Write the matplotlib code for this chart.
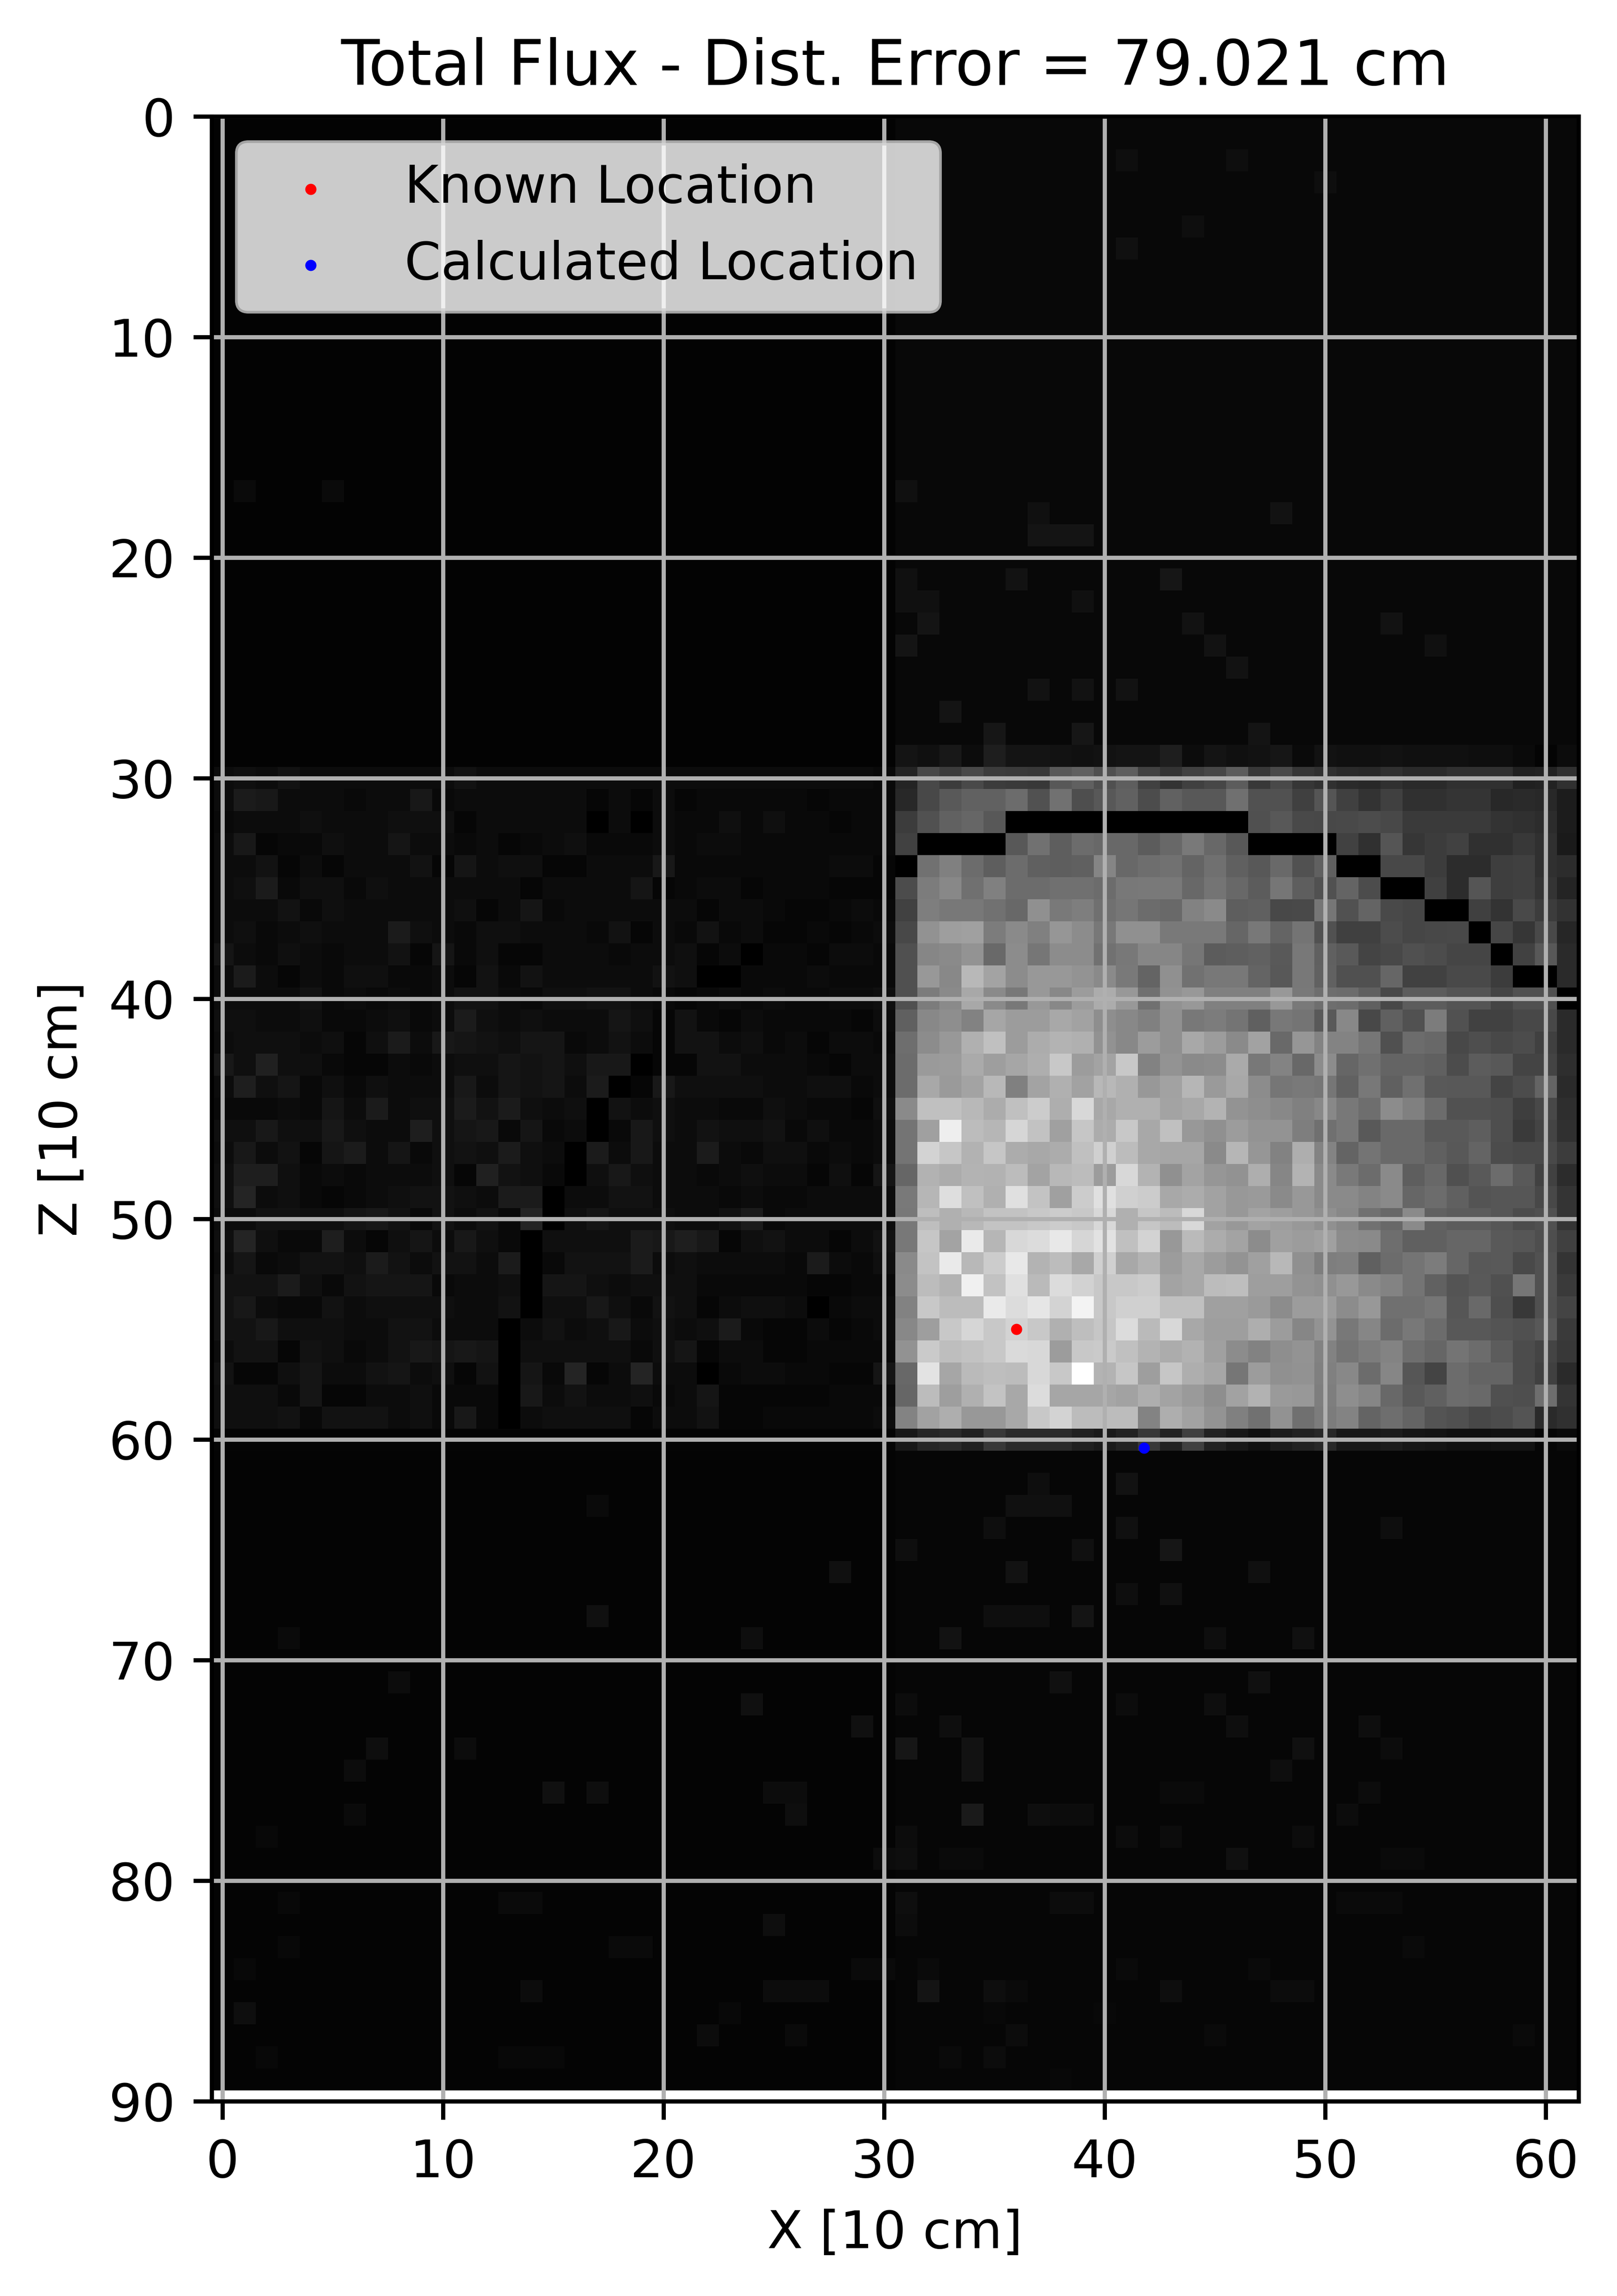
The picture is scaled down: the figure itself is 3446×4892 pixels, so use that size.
import numpy as np
import matplotlib
matplotlib.use("Agg")
import matplotlib.pyplot as plt

# grey levels (0-255)
# rows 30-59, columns 0-30 : one hex digit per cell, level = digit * 3 + 3, 0 stays black
left_rows = [
    "3435333333" "3533333333" "3333333333" "2",
    "3873332337" "2333333131" "3122222122" "2",
    "2333433344" "4133333030" "3224242212" "2",
    "3712243363" "3231234222" "3233222222" "2",
    "3351313335" "1634411333" "7222222233" "1",
    "3482442433" "3333133336" "1233122211" "1",
    "3335243333" "3413623333" "3313321123" "2",
    "3423433384" "3244333251" "3252311212" "3",
    "6324323351" "6241133323" "3413022133" "2",
    "3831324422" "3152533333" "5400222322" "2",
    "3333523232" "3553244553" "2123232233" "4",
    "4433422342" "3843433364" "1521322221" "3",
    "3444341483" "7654662353" "1553423133" "2",
    "74a4421132" "3446564770" "1155333213" "3",
    "3946242433" "3736563801" "7444433442" "3",
    "2223263834" "4858434053" "4332243221" "4",
    "4474474339" "4672623027" "4354452422" "3",
    "3735168362" "4548430837" "3383244232" "3",
    "4994232333" "41a5420474" "3323433141" "6",
    "4b34212345" "5438803355" "3332322333" "3",
    "3355446752" "5352b04644" "4335823333" "3",
    "4b42293146" "3742044448" "7971453313" "5",
    "3623554853" "5538025558" "3433332832" "4",
    "5558425666" "2334066434" "4422222112" "2",
    "5732253444" "4335044742" "5413443023" "3",
    "5574443355" "3330353473" "4348211312" "3",
    "3551542357" "6760444442" "4613311222" "2",
    "5114633563" "415062b13b" "3302332211" "6",
    "4442611334" "2220735334" "2361111122" "2",
    "4445255534" "2720344441" "3351122222" "3",
]

# rows 29-60, columns 31-61
row_29 = [0x14, 0x10, 0x18, 0x0c, 0x1e, 0x14, 0x14, 0x12, 0x10, 0x12, 0x14, 0x14, 0x1e, 0x0c, 0x14, 0x10,
          0x12, 0x16, 0x0a, 0x12, 0x10, 0x10, 0x12, 0x10, 0x10, 0x10, 0x0e, 0x0e, 0x0a, 0x04, 0x0c]
bright_rows = [
    [0x25, 0x48, 0x3c, 0x4a, 0x3c, 0x3a, 0x38, 0x58, 0x60, 0x50, 0x5e, 0x42, 0x33, 0x40, 0x47, 0x5c, 0x38, 0x4a, 0x36, 0x30, 0x2a, 0x28, 0x30, 0x2a, 0x2a, 0x30, 0x30, 0x30, 0x20, 0x22, 0x30],
    [0x28, 0x48, 0x5a, 0x62, 0x62, 0x6c, 0x52, 0x72, 0x4e, 0x58, 0x62, 0x4c, 0x62, 0x58, 0x58, 0x70, 0x52, 0x52, 0x40, 0x55, 0x40, 0x33, 0x40, 0x30, 0x30, 0x35, 0x35, 0x28, 0x2a, 0x28, 0x1c],
    [0x3c, 0x52, 0x62, 0x66, 0x58, 0, 0, 0, 0, 0, 0, 0, 0, 0, 0, 0, 0x50, 0x58, 0x4a, 0x48, 0x4a, 0x4c, 0x48, 0x3a, 0x3a, 0x3a, 0x3a, 0x33, 0x30, 0x2c, 0x1c],
    [0x42, 0, 0, 0, 0, 0x58, 0x72, 0x5e, 0x6c, 0x68, 0x68, 0x5c, 0x68, 0x7a, 0x68, 0x58, 0, 0, 0, 0, 0x42, 0x30, 0x55, 0x36, 0x3c, 0x42, 0x30, 0x30, 0x38, 0x30, 0x1a],
    [0, 0x72, 0x80, 0x6c, 0x5e, 0x6c, 0x60, 0x5e, 0x60, 0x85, 0x68, 0x6e, 0x72, 0x64, 0x70, 0x60, 0x58, 0x6a, 0x52, 0x60, 0, 0, 0x48, 0x48, 0x3c, 0x2c, 0x2c, 0x3e, 0x40, 0x30, 0x2c],
    [0x4c, 0x7c, 0x88, 0x70, 0x80, 0x6c, 0x6c, 0x70, 0x70, 0x6c, 0x78, 0x7a, 0x7a, 0x68, 0x74, 0x68, 0x5c, 0x76, 0x5e, 0x52, 0x64, 0x4c, 0, 0, 0x40, 0x2c, 0x55, 0x3e, 0x40, 0x35, 0x24],
    [0x42, 0x7e, 0x78, 0x78, 0x72, 0x68, 0x90, 0x7a, 0x7e, 0x70, 0x76, 0x6c, 0x6a, 0x82, 0x8a, 0x5e, 0x60, 0x48, 0x4a, 0x76, 0x52, 0x64, 0x4a, 0x46, 0, 0, 0x40, 0x33, 0x4a, 0x3c, 0x32],
    [0x48, 0x92, 0x9e, 0xa0, 0x7c, 0x8a, 0x80, 0x96, 0x8c, 0x78, 0x90, 0x90, 0x7a, 0x7a, 0x7a, 0x66, 0x78, 0x64, 0x74, 0x52, 0x40, 0x40, 0x4c, 0x46, 0x48, 0x4a, 0, 0x46, 0x36, 0x4a, 0x26],
    [0x50, 0x86, 0x8a, 0x94, 0x6a, 0x8c, 0x76, 0x8c, 0x8c, 0x72, 0x78, 0x86, 0x86, 0x76, 0x5c, 0x5e, 0x62, 0x5a, 0x78, 0x60, 0x5a, 0x44, 0x48, 0x50, 0x4c, 0x45, 0x45, 0, 0x42, 0x58, 0x2a],
    [0x50, 0x98, 0x88, 0xb8, 0xa4, 0x8c, 0x98, 0x98, 0x94, 0x8a, 0x7a, 0x64, 0x90, 0x72, 0x78, 0x78, 0x64, 0x58, 0x78, 0x62, 0x50, 0x50, 0x66, 0x42, 0x42, 0x4a, 0x4a, 0x3c, 0, 0, 0x2a],
    [0x50, 0x7c, 0x8a, 0xa8, 0x8a, 0x78, 0x98, 0x88, 0x9c, 0xac, 0x98, 0x70, 0x92, 0x98, 0x80, 0x80, 0x80, 0x98, 0x7a, 0x6e, 0x6c, 0x60, 0x48, 0x5c, 0x5c, 0x54, 0x54, 0x44, 0x50, 0x50, 0],
    [0x60, 0x88, 0x8e, 0x82, 0xa6, 0x9c, 0x9c, 0xa8, 0xa2, 0x8e, 0x88, 0x80, 0x90, 0x78, 0x7c, 0x74, 0x60, 0x78, 0x74, 0x5a, 0x88, 0x48, 0x60, 0x52, 0x7c, 0x52, 0x42, 0x42, 0x48, 0x48, 0x2a],
    [0x6e, 0x8c, 0x98, 0xb0, 0xc0, 0x9c, 0xac, 0xb4, 0xb0, 0x92, 0x88, 0x9c, 0x90, 0xa8, 0x9c, 0x8a, 0xa2, 0x6a, 0x96, 0x84, 0x84, 0x76, 0x50, 0x6c, 0x68, 0x48, 0x4e, 0x48, 0x4c, 0x40, 0x2a],
    [0x6c, 0x9a, 0x9c, 0xaa, 0x9e, 0xa6, 0xae, 0xc8, 0x9c, 0xa4, 0xc8, 0x82, 0x94, 0x8a, 0x8c, 0xaa, 0x78, 0x84, 0x68, 0x8c, 0x66, 0x70, 0x64, 0x64, 0x60, 0x4c, 0x5c, 0x58, 0x44, 0x44, 0x2e],
    [0x6c, 0xa8, 0x9a, 0xa4, 0xb8, 0x80, 0xa4, 0xb0, 0xa2, 0xb8, 0xb0, 0x98, 0xa2, 0xb6, 0x9a, 0xa8, 0x8c, 0x76, 0x7a, 0x76, 0x62, 0x78, 0x60, 0x70, 0x5a, 0x58, 0x58, 0x44, 0x4c, 0x64, 0x2a],
    [0x8a, 0xc0, 0xc0, 0xb8, 0xac, 0xc0, 0xcc, 0xae, 0xd8, 0xa8, 0xb0, 0xb0, 0xa4, 0xa8, 0xb4, 0x94, 0x8e, 0x88, 0x80, 0x88, 0x78, 0x6e, 0x8c, 0x80, 0x6c, 0x52, 0x52, 0x4e, 0x3e, 0x48, 0x2e],
    [0x74, 0xa0, 0xee, 0xbc, 0xb6, 0xd6, 0xc2, 0xa0, 0xc6, 0xac, 0xc8, 0xa8, 0xc0, 0x98, 0x90, 0x9c, 0x94, 0x94, 0x7e, 0x70, 0x78, 0x5a, 0x6a, 0x6a, 0x5a, 0x5a, 0x5e, 0x4e, 0x3a, 0x44, 0x30],
    [0x74, 0xd4, 0xc6, 0xb2, 0xc6, 0xac, 0xa8, 0xac, 0xc0, 0xd0, 0xbc, 0xa8, 0xa6, 0xa6, 0x8a, 0xb6, 0x96, 0x82, 0xae, 0x84, 0x64, 0x74, 0x6a, 0x6a, 0x60, 0x58, 0x64, 0x4c, 0x4a, 0x4a, 0x3c],
    [0x66, 0xb2, 0xac, 0xb4, 0xb2, 0xbc, 0xa4, 0xb8, 0xbc, 0x9c, 0xd8, 0xb4, 0x90, 0xa4, 0x96, 0x92, 0xae, 0x86, 0xb4, 0x8a, 0x7a, 0x6c, 0x8a, 0x5e, 0x68, 0x50, 0x5a, 0x6c, 0x5a, 0x42, 0x2c],
    [0x7a, 0xb6, 0xde, 0xc0, 0xb0, 0xe0, 0xc4, 0xa0, 0xcc, 0xe0, 0xd0, 0xcc, 0xa8, 0xac, 0xa2, 0x98, 0x9a, 0x8a, 0x98, 0x8a, 0x8a, 0x84, 0x8a, 0x66, 0x6c, 0x60, 0x54, 0x56, 0x56, 0x48, 0x34],
    [0x78, 0xbe, 0xb0, 0xb8, 0xc4, 0xc4, 0xc8, 0xcc, 0xc8, 0xd8, 0xb0, 0xc6, 0xbc, 0xd8, 0xa2, 0x98, 0xa4, 0x9e, 0x98, 0x90, 0x88, 0x72, 0x68, 0x8a, 0x62, 0x5c, 0x5c, 0x56, 0x4c, 0x50, 0x34],
    [0x78, 0xc6, 0xa4, 0xea, 0xb6, 0xd8, 0xdc, 0xe8, 0xd6, 0xe2, 0xc0, 0xd4, 0x98, 0xba, 0xac, 0xa4, 0x8c, 0xa0, 0x9c, 0xa0, 0x8c, 0x8a, 0x6e, 0x60, 0x60, 0x66, 0x66, 0x5a, 0x56, 0x4e, 0x40],
    [0x8a, 0xc4, 0xea, 0xb8, 0xcc, 0xe8, 0xb4, 0xbc, 0xa8, 0xd0, 0xa8, 0xb4, 0x9c, 0xa8, 0x9c, 0x94, 0xa0, 0xb8, 0x90, 0x7e, 0x80, 0x60, 0x6c, 0x74, 0x7c, 0x66, 0x58, 0x5a, 0x4a, 0x52, 0x34],
    [0x8c, 0xbc, 0xb4, 0xf0, 0xc2, 0xe0, 0xba, 0xdc, 0xd2, 0xc8, 0xc8, 0xcc, 0xa4, 0xa8, 0xbc, 0xbe, 0x9e, 0x9e, 0x94, 0x90, 0x98, 0x8a, 0x84, 0x74, 0x62, 0x54, 0x5a, 0x50, 0x76, 0x52, 0x3a],
    [0x82, 0xc8, 0xbc, 0xbc, 0xea, 0xdc, 0xe6, 0xd4, 0xf4, 0xc8, 0xd0, 0xd0, 0xc0, 0xc0, 0xa0, 0xa0, 0x9a, 0x8c, 0x9c, 0x9c, 0x8c, 0x98, 0x70, 0x70, 0x76, 0x56, 0x6a, 0x4e, 0x38, 0x50, 0x44],
    [0x88, 0x9e, 0xc8, 0xd6, 0xc8, 0xd4, 0xc8, 0xb0, 0xbe, 0xc6, 0xdc, 0xba, 0xd8, 0xa8, 0x9e, 0x9e, 0xae, 0x9c, 0x86, 0x94, 0x78, 0x86, 0x6c, 0x78, 0x6c, 0x58, 0x58, 0x54, 0x50, 0x58, 0x3a],
    [0x92, 0xca, 0xbe, 0xc2, 0xc8, 0xda, 0xd8, 0x9c, 0xc8, 0xca, 0xc0, 0xb4, 0xac, 0xb2, 0xa0, 0x8c, 0x82, 0x8e, 0x94, 0x82, 0x74, 0x7c, 0x84, 0x6e, 0x66, 0x74, 0x6c, 0x5c, 0x4c, 0x44, 0x38],
    [0x68, 0xe4, 0xa6, 0xba, 0xbe, 0xbc, 0xd8, 0xc8, 0xff, 0xb4, 0xc6, 0x9e, 0xc6, 0xae, 0xa6, 0x76, 0x9c, 0x90, 0x92, 0x80, 0x88, 0x6c, 0x86, 0x56, 0x44, 0x6c, 0x64, 0x64, 0x4c, 0x40, 0x2a],
    [0x66, 0xbc, 0x9e, 0xb0, 0xc4, 0xa8, 0xdc, 0xa6, 0xa6, 0xa6, 0xa2, 0xae, 0xa4, 0x9a, 0x8e, 0xa2, 0xb2, 0x9a, 0x98, 0x7e, 0x8e, 0x86, 0x68, 0x5a, 0x60, 0x6c, 0x6a, 0x50, 0x4e, 0x6e, 0x34],
    [0x84, 0xa2, 0xae, 0x98, 0x98, 0xa8, 0xc8, 0xd4, 0xbc, 0xbc, 0xbc, 0x84, 0xae, 0xa2, 0x94, 0x80, 0x72, 0x92, 0x70, 0x7c, 0x84, 0x64, 0x6e, 0x64, 0x54, 0x50, 0x48, 0x4c, 0x54, 0x2a, 0x30],
]
row_60 = [0x18, 0x26, 0x2a, 0x20, 0x38, 0x2a, 0x2a, 0x2a, 0x20, 0x1a, 0x22, 0x38, 0x22, 0x40, 0x22, 0x18, 0x10,
          0x1c, 0x22, 0x28, 0x18, 0x18, 0x1c, 0x16, 0x14, 0x10, 0x10, 0x12, 0x12, 0x06, 0x0a]

# the faint cells that stand out of the near black bands (row, column, level)
faint_cells = [
    (2, 41, 14), (2, 46, 14), (3, 50, 14), (5, 44, 14), (6, 41, 16), (17, 1, 10), (17, 5, 10), (17, 31, 16),
    (18, 37, 16), (18, 48, 18), (19, 37, 20), (19, 38, 20), (19, 39, 20), (21, 31, 16), (21, 36, 18), (21, 43, 22),
    (22, 31, 16), (22, 32, 16), (22, 39, 16), (23, 32, 20), (23, 44, 18), (23, 53, 18), (24, 31, 20), (24, 45, 18),
    (24, 55, 16), (25, 46, 18), (26, 37, 18), (26, 39, 18), (26, 41, 18), (27, 33, 20), (28, 35, 22), (28, 39, 22),
    (28, 47, 20), (62, 37, 14), (62, 41, 18), (63, 17, 10), (63, 36, 16), (63, 37, 16), (63, 38, 16), (64, 35, 14),
    (64, 41, 16), (64, 53, 14), (65, 31, 14), (65, 39, 16), (65, 43, 22), (66, 28, 16), (66, 36, 18), (66, 47, 16),
    (67, 41, 14), (67, 43, 16), (68, 17, 16), (68, 35, 14), (68, 36, 14), (68, 37, 14), (68, 39, 20), (69, 3, 10),
    (69, 24, 14), (69, 33, 18), (69, 45, 14), (69, 49, 16), (71, 8, 12), (71, 38, 16), (71, 47, 16), (72, 24, 16),
    (72, 31, 12), (72, 41, 12), (72, 45, 14), (73, 29, 16), (73, 33, 14), (73, 46, 14), (73, 52, 14), (74, 7, 14),
    (74, 11, 12), (74, 31, 22), (74, 34, 18), (74, 49, 16), (74, 53, 12), (75, 6, 12), (75, 34, 18), (75, 48, 14),
    (76, 15, 16), (76, 17, 14), (76, 25, 12), (76, 26, 12), (76, 43, 10), (76, 44, 10), (76, 52, 12), (77, 6, 10),
    (77, 26, 14), (77, 34, 26), (77, 37, 14), (77, 38, 12), (77, 39, 12), (77, 51, 12), (78, 2, 8), (78, 31, 12),
    (78, 41, 12), (78, 43, 12), (78, 49, 12), (79, 30, 12), (79, 31, 14), (79, 33, 10), (79, 34, 10), (79, 46, 16),
    (79, 53, 10), (79, 54, 10), (81, 3, 8), (81, 13, 10), (81, 14, 10), (81, 31, 14), (81, 38, 12), (81, 39, 12),
    (81, 51, 10), (81, 52, 10), (81, 53, 10), (82, 25, 14), (82, 31, 12), (83, 3, 8), (83, 18, 10), (83, 19, 10),
    (83, 54, 10), (84, 1, 8), (84, 29, 10), (84, 30, 10), (84, 32, 10), (84, 41, 10), (84, 47, 10), (85, 14, 12),
    (85, 25, 12), (85, 26, 12), (85, 27, 12), (85, 32, 20), (85, 35, 14), (85, 36, 10), (85, 43, 14), (85, 48, 12),
    (85, 49, 12), (86, 1, 14), (86, 23, 8), (86, 35, 8), (86, 40, 8), (87, 22, 12), (87, 26, 10), (87, 36, 12),
    (87, 45, 10), (87, 59, 10), (88, 2, 8), (88, 13, 8), (88, 14, 8), (88, 15, 8), (88, 33, 10), (88, 35, 12),
    (89, 38, 8), (89, 41, 6),
]
top_level_left = 3
top_level_right = 8
bottom_level_left = 4
bottom_level_right = 6
row_60_left = 5
row_29_left = 3

known_x, known_z = [36.0], [55.0]
calc_x, calc_z = [41.8], [60.37]
x_ticks = [0, 10, 20, 30, 40, 50, 60]
z_ticks = [0, 10, 20, 30, 40, 50, 60, 70, 80, 90]

flux = np.zeros((90, 62))
flux[:30, :31] = top_level_left
flux[:30, 31:] = top_level_right
flux[60:, :31] = bottom_level_left
flux[60:, 31:] = bottom_level_right
for r, c, v in faint_cells:
    flux[r, c] = v
flux[29, :31] = row_29_left
flux[29, 31:] = row_29
flux[60, :31] = row_60_left
flux[60, 31:] = row_60
for i, row in enumerate(left_rows):
    flux[30 + i, :31] = [int(ch, 16) * 3 + 3 if ch != "0" else 0 for ch in row]
flux[30:60, 31:] = bright_rows

fig = plt.figure(figsize=(3446 / 800, 4892 / 800))
ax = fig.add_axes([450.5 / 3446, 1 - 4477 / 4892, 2914 / 3446, 4229 / 4892])
ax.imshow(flux, cmap="gray", vmin=0, vmax=255, interpolation="nearest")
ax.scatter(known_x, known_z, c="r", s=4.6, linewidths=0, label="Known Location")
ax.scatter(calc_x, calc_z, c="b", s=4.6, linewidths=0, label="Calculated Location")
ax.set_xlim(-0.5, 61.5)
ax.set_ylim(90, 0)
ax.set_xticks(x_ticks)
ax.set_yticks(z_ticks)
ax.grid(True)
ax.set_xlabel("X [10 cm]")
ax.set_ylabel("Z [10 cm]")
ax.set_title("Total Flux - Dist. Error = 79.021 cm", fontsize=12.1)
ax.legend(loc="upper left")
fig.savefig("out.png", dpi=800)
